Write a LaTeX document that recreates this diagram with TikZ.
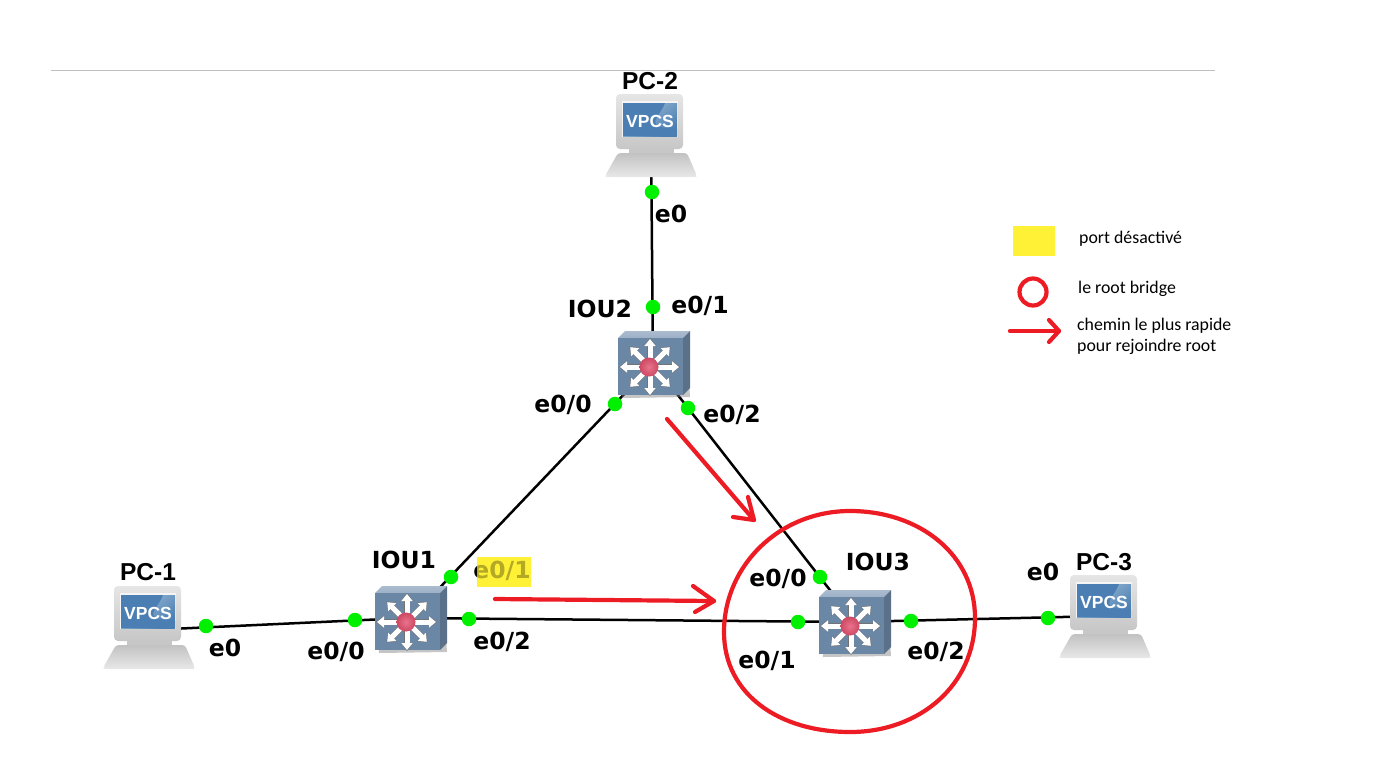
\documentclass[tikz,border=0pt]{standalone}
\usepackage{fontspec}
\setmainfont{DejaVu Sans}
\newfontfamily\legendfont{Carlito}
\newfontfamily\vpcsfont{Liberation Sans}
\usetikzlibrary{arrows.meta,shapes.geometric}
\definecolor{rednote}{HTML}{ED1C24}
\definecolor{yellownote}{HTML}{FFF236}
\definecolor{linkgreen}{HTML}{00F000}
\definecolor{swface}{HTML}{6B87A6}
\definecolor{swtop}{HTML}{9DB0C6}
\definecolor{swside}{HTML}{5A7189}
\definecolor{swball}{HTML}{E4506E}
\definecolor{scrA}{HTML}{4B7FB3}
\definecolor{scrB}{HTML}{A5C0D8}
\tikzset{
  link/.style={line width=2.5pt,black},
  portdot/.style={circle,fill=linkgreen,draw=none,minimum size=14.5pt,inner sep=0pt},
  lbl/.style={font=\fontsize{23.5}{27}\bfseries\selectfont,text=black,inner sep=0pt},
  pclbl/.style={font=\vpcsfont\fontsize{24.5}{27}\bfseries\selectfont,text=black,inner sep=0pt},
  legendtxt/.style={font=\legendfont\fontsize{17.8}{21}\selectfont,text=black,inner sep=0pt,align=left,anchor=west},
  note/.style={rednote,line width=4.2pt,line cap=round,line join=round},
  switchicon/.pic={
    \fill[black!50,opacity=.45] (-29,-29) -- (36,-29) -- (40,30) -- (-28,31) -- cycle;
    \shade[top color=swtop!85!white,bottom color=swtop,draw=none] (-32,-29) -- (-25,-36) -- (40,-36) -- (33,-29) -- cycle;
    \fill[swside] (33,-29) -- (40,-36) -- (40,21) -- (33,28) -- cycle;
    \fill[swface] (-32,-29) rectangle (33,28);
    \foreach \a/\r in {0/29,45/28,90/28,135/28,180/30,225/28,270/28,315/28}{
      \draw[black!55,line width=6pt,-{Triangle[length=8pt,width=12pt]}] (\a:8) -- (\a:\r+1);
      \draw[white,line width=5pt,-{Triangle[length=7pt,width=11pt]}] (\a:8) -- (\a:\r);
    }
    \shade[inner color=swball!80!white,outer color=swball!90!black,draw=none] (-1,0) circle (9.5);
  },
  pcicon/.pic={
    \shade[top color=black!24,bottom color=black!9,rounded corners=3pt] (-33,18) -- (36,18) -- (46,41) -- (44,42) -- (-44,42) -- (-46,41) -- cycle;
    \fill[black!22] (-22,12) rectangle (23,18);
    \shade[top color=black!10,bottom color=black!22,rounded corners=4pt] (-35,-41) rectangle (32,14);
    \fill[black!4] (-29,-34) rectangle (27,2);
    \shade[bottom color=scrA,top color=scrB,shading angle=40] (-28,-32) rectangle (26,1);
    \fill[scrA] (-28,1) -- (-28,-32) -- (14,-32) .. controls (8,-16) and (-10,-8) .. (26,-6) -- (26,1) -- cycle;
    \node[text=white,font=\vpcsfont\fontsize{17.5}{20}\bfseries\selectfont,inner sep=0pt] at (-1,-14) {VPCS};
  }
}
\begin{document}
\begin{tikzpicture}[x=1pt,y=-1pt]
\useasboundingbox (0,0) rectangle (1378,774);
\fill[white] (0,0) rectangle (1378,774);

\draw[black!25,line width=.9pt] (51,70.5) -- (1215,70.5);

% device positions
\coordinate (pc2) at (651,135);
\coordinate (pc1) at (149,627);
\coordinate (pc3) at (1105,616);
\coordinate (iou2) at (650,367);
\coordinate (iou1) at (407,622);
\coordinate (iou3) at (851,626);

% links
\draw[link] (pc2) -- ([xshift=3pt]iou2);
\draw[link] (iou2) -- (iou1);
\draw[link] ([xshift=6pt]iou2) -- ([xshift=7pt]iou3);
\draw[link] ([yshift=-3pt]pc1) -- ([yshift=4pt]iou1);
\draw[link] ([yshift=4pt]iou1) -- ([yshift=4pt]iou3);
\draw[link] ([yshift=4pt]iou3) -- (pc3);

% devices
\pic at (pc2) {pcicon};
\pic at (pc1) {pcicon};
\pic at (pc3) {pcicon};
\pic at (iou2) {switchicon};
\pic at (iou1) {switchicon};
\pic at (iou3) {switchicon};

% port dots
\node[portdot] (d1) at (652,192) {};
\node[portdot] (d2) at (653,307) {};
\node[portdot] (d3) at (615,404) {};
\node[portdot] (d4) at (688,408) {};
\node[portdot] (d5) at (451,577) {};
\node[portdot] (d6) at (820,577) {};
\node[portdot] (d7) at (469,619) {};
\node[portdot] (d8) at (798,622) {};
\node[portdot] (d9) at (206,626) {};
\node[portdot] (d10) at (355,620) {};
\node[portdot] (d11) at (911,621) {};
\node[portdot] (d12) at (1048,618) {};

% highlighted port
\fill[yellownote] (477,557) rectangle (531,587);

% labels
\node[pclbl] (lpc2) at (650,81) {PC-2};
\node[pclbl] (lpc1) at (148,572) {PC-1};
\node[pclbl] (lpc3) at (1104,562) {PC-3};
\node[lbl] (liou2) at (600,309) {IOU2};
\node[lbl] (liou1) at (404,560) {IOU1};
\node[lbl] (liou3) at (878,562) {IOU3};
\node[lbl] (p1) at (671,214) {e0};
\node[lbl] (p2) at (700,306) {e0/1};
\node[lbl] (p3) at (563,405) {e0/0};
\node[lbl] (p4) at (732,415) {e0/2};
\node[lbl] (p5) at (502,571) {e0/1};
\node[lbl] (p6) at (336,652) {e0/0};
\node[lbl] (p7) at (502,642) {e0/2};
\node[lbl] (p8) at (225,648) {e0};
\node[lbl] (p9) at (778,579) {e0/0};
\node[lbl] (p10) at (767,661) {e0/1};
\node[lbl] (p11) at (936,652) {e0/2};
\node[lbl] (p12) at (1043,572) {e0};
\fill[yellownote,opacity=.7] (477,557) rectangle (531,587);

% red annotations
\draw[note] (850,511) .. controls (920,511) and (975,555) .. (975,618)
  .. controls (975,685) and (920,732) .. (850,732)
  .. controls (780,732) and (724,695) .. (724,632)
  .. controls (724,565) and (780,511) .. (850,511);
\coordinate (a1s) at (667,419); \coordinate (a1e) at (754,520);
\draw[note] (a1s) -- (a1e);
\draw[note] (733,517) -- (a1e) -- (748,497);
\coordinate (a2s) at (495,599); \coordinate (a2e) at (714,601);
\draw[note] (a2s) -- (a2e);
\draw[note] (693,586) -- (a2e) -- (695,612);

% legend
\fill[yellownote] (1013,226) rectangle (1055,256);
\node[legendtxt] (t1) at (1079,239) {port désactivé};
\draw[note] (1033,292) circle (13.5);
\node[legendtxt] (t2) at (1078,289) {le root bridge};
\coordinate (a3s) at (1010,331); \coordinate (a3e) at (1059,331);
\draw[note] (a3s) -- (a3e);
\draw[note] (1049,320) -- (a3e) -- (1049,342);
\node[legendtxt] (t3) at (1077,336) {chemin le plus rapide\\pour rejoindre root};
\end{tikzpicture}
\end{document}
